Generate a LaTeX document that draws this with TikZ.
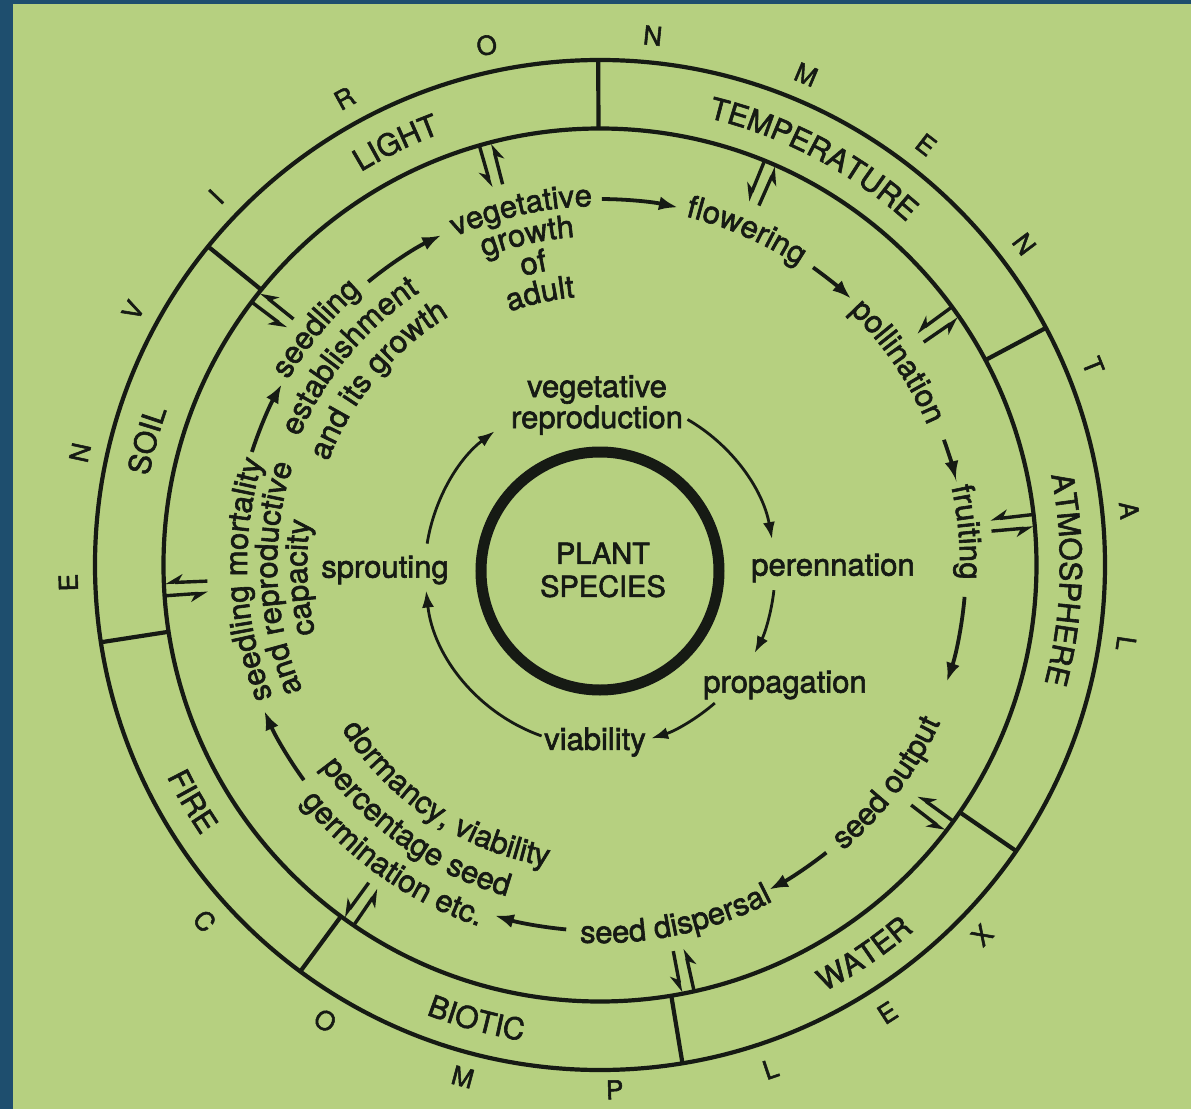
\documentclass[tikz,border=0pt]{standalone}
\usepackage{fontspec}
\setmainfont{TeX Gyre Heros}[FakeBold=2]
\usetikzlibrary{arrows.meta,decorations.text}
\definecolor{paper}{RGB}{182,208,128}
\definecolor{ink}{RGB}{22,26,20}
\definecolor{frameblue}{RGB}{30,78,110}
\newcommand\lblfont{\fontsize{31}{31}\selectfont}
\newcommand\plantfont{\fontsize{29}{33}\selectfont}
\newcommand\bandfont{\fontsize{30}{30}\selectfont}
\newcommand\envfont{\fontsize{26}{26}\selectfont}
% text along a clockwise arc (tops outward): font, centre angle, baseline radius, text
\newcommand\cwlabel[4]{\path[decorate,decoration={text along path,text align=center,text={|#1\color{ink}|#4}}] ({#2+55}:#3) arc[start angle={#2+55},end angle={#2-55},radius=#3];}
% text along a counter-clockwise arc (tops inward)
\newcommand\ccwlabel[4]{\path[decorate,decoration={text along path,text align=center,text={|#1\color{ink}|#4}}] ({#2-55}:#3) arc[start angle={#2-55},end angle={#2+55},radius=#3];}
\tikzset{
  ringline/.style={draw=ink,line width=4.2pt},
  divider/.style={draw=ink,line width=4.2pt},
  outarr/.style={draw=ink,line width=3.8pt,-{Latex[length=19pt,width=14pt]}},
  inarr/.style={draw=ink,line width=2.8pt,-{Latex[length=17pt,width=12pt]}},
  harp/.style={draw=ink,line width=3.4pt,-{Stealth[harpoon,swap,length=15pt,width=16pt]}},
  lbl/.style={text=ink,font=\lblfont,align=center,inner sep=0pt},
  envletter/.style={text=ink,font=\envfont,inner sep=0pt},
}
\begin{document}
\begin{tikzpicture}[x=1pt,y=1pt]
\useasboundingbox (-600,-544) rectangle (591,565);
\fill[paper] (-600,-544) rectangle (591,565);
\fill[frameblue] (-600,-544) rectangle (-587,565);
\fill[frameblue] (-600,561) rectangle (591,565);

% environment band
\draw[ringline] (0,0) circle[radius=436.5];
\draw[ringline] (0,0) circle[radius=505];
\foreach \a in {90.2,28,-34.5,-80.6,233.6,188.8,140.9}
  \draw[divider] (\a:436.5) -- (\a:505);

% band labels
\cwlabel{\bandfont}{115.8}{460}{LIGHT}
\cwlabel{\bandfont}{62.3}{460}{TEMPERATURE}
\cwlabel{\bandfont}{-1.8}{460}{ATMOSPHERE}
\cwlabel{\bandfont}{164.6}{460}{SOIL}
\ccwlabel{\bandfont}{-55.8}{482}{WATER}
\ccwlabel{\bandfont}{254.8}{482}{BIOTIC}
\ccwlabel{\bandfont}{210.1}{482}{FIRE}

% ENVIRONMENTAL COMPLEX
\foreach \a/\l [count=\i] in {181.9/E,167.8/N,151.4/V,136.2/I,118.7/R,102.3/O,84.3/N,67.2/M,52.2/E,37.1/N,22/T,5.9/A,-8.5/L}
  \node[envletter,rotate=\a-90] (env\i) at (\a:532) {\l};
\foreach \a/\l/\r [count=\i] in {222/C/532,238.9/O/532,255/M/530,271.6/P/525,288.7/L/532,302.7/E/532,315.9/X/532}
  \node[envletter,rotate=\a+90] (cpx\i) at (\a:\r) {\l};

% interaction harpoons at the inner band edge
\foreach \a [count=\i] in {105.2,67,35.4,5.8,-36.8,-78.4,234.8,183.2,142.1}{
  \coordinate (hia\i) at ({\a+0.85}:435);
  \coordinate (hib\i) at ({\a+0.85}:393);
  \coordinate (hoa\i) at ({\a-0.85}:393);
  \coordinate (hob\i) at ({\a-0.85}:435);
  \draw[harp] (hia\i) -- (hib\i);
  \draw[harp] (hoa\i) -- (hob\i);
}

% outer life-cycle labels
\cwlabel{\lblfont}{102.5}{359}{vegetative}
\cwlabel{\lblfont}{102.5}{329}{growth}
\cwlabel{\lblfont}{102.5}{299}{of}
\cwlabel{\lblfont}{102.5}{269}{adult}
\cwlabel{\lblfont}{66.3}{359}{flowering}
\cwlabel{\lblfont}{34.3}{356}{pollination}
\cwlabel{\lblfont}{5.1}{360}{fruiting}
\ccwlabel{\lblfont}{-37.2}{375}{seed output}
\ccwlabel{\lblfont}{-77.9}{378}{seed dispersal}
\ccwlabel{\lblfont}{236.3}{306}{dormancy, viability}
\ccwlabel{\lblfont}{235.1}{344}{percentage seed}
\ccwlabel{\lblfont}{234.9}{381}{germination etc.}
\cwlabel{\lblfont}{182.4}{353}{seedling mortality}
\cwlabel{\lblfont}{182.4}{323}{and reproductive}
\cwlabel{\lblfont}{182.4}{293}{capacity}
\cwlabel{\lblfont}{140.2}{363}{seedling}
\cwlabel{\lblfont}{140.2}{327}{establishment}
\cwlabel{\lblfont}{140.2}{291}{and its growth}

% outer life-cycle arrows (arcs of radius 366)
\foreach \s/\e [count=\i] in {216/203.5,162/150.4,129.3/115.7,89.7/77.7,54.4/46.7,20/13.4,-5/-18.6,-51.8/-62.5,-95.3/-106.7}{
  \coordinate (oa\i) at (\s:366);
  \draw[outarr] (oa\i) arc[start angle=\s,end angle=\e,radius=366];
}

% plant species core
\coordinate (core) at (0,-6);
\draw[draw=ink,line width=11pt] (core) circle[radius=119];
\node[lbl,font=\plantfont] (plant) at (3,-5) {PLANT\\SPECIES};

% inner cycle
\node[lbl] (vegrep) at (-3,160) {vegetative\\reproduction};
\node[lbl] (perenn) at (233,-3) {perennation};
\node[lbl] (propag) at (185,-120) {propagation};
\node[lbl] (viab) at (-5,-177) {viability};
\node[lbl] (sprout) at (-215,-5) {sprouting};

\foreach \s/\e [count=\i] in {171/127,60/10.5,-6.3/-28,-49/-73,250.5/186.4}{
  \coordinate (ia\i) at ([shift={(core)}]\s:175);
  \draw[inarr] (ia\i) arc[start angle=\s,end angle=\e,radius=175];
}
\end{tikzpicture}
\end{document}
